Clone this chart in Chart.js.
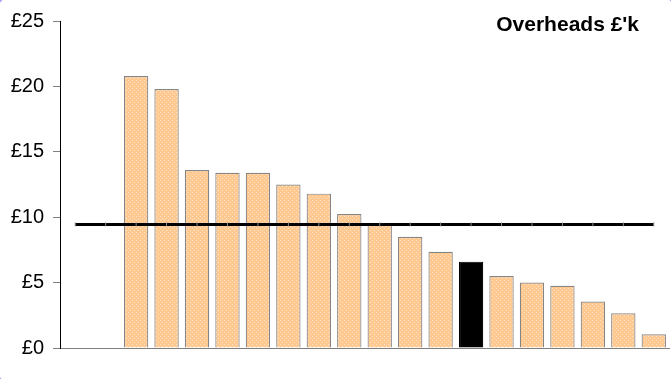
<!DOCTYPE html>
<html>
<head>
<meta charset="utf-8">
<title>Overheads £'k</title>
<script src="https://cdn.jsdelivr.net/npm/chart.js@4.4.1/dist/chart.umd.min.js"></script>
<style>
  html, body { margin: 0; padding: 0; background: #ffffff; overflow: hidden; }
  #wrap { position: relative; width: 671px; height: 379px; overflow: hidden; }
  #frame {
    position: absolute; left: -6px; top: -6px; width: 684px; height: 392px;
    box-sizing: border-box; border: 2px solid #a4a4f6; border-radius: 20px;
    pointer-events: none;
  }
  canvas { position: absolute; left: 0; top: 0; }
</style>
</head>
<body>
<div id="wrap">
  <canvas id="chart" width="674" height="379"></canvas>
  <div id="frame"></div>
</div>
<script>
// Categories along the x axis (not labelled); the first two have no bar.
const categories = ['1','2','3','4','5','6','7','8','9','10','11','12','13','14','15','16','17','18','19','20'];
// Overheads per unit, £'k
const overheads = [null, null, 20.8, 19.8, 13.6, 13.4, 13.4, 12.5, 11.8, 10.25, 9.5, 8.5, 7.35, 6.6, 5.5, 5.0, 4.75, 3.55, 2.65, 1.05];
// Index of the highlighted bar
const highlightIndex = 13;
// Average overheads, drawn as a horizontal line
const averageOverheads = 9.45;
// Y axis ticks
const yTicks = [0, 5, 10, 15, 20, 25];
const chartTitle = "Overheads £'k";

// Peach fill with a fine white dot texture
function dotPattern() {
  const c = document.createElement('canvas');
  c.width = 4; c.height = 4;
  const g = c.getContext('2d');
  g.fillStyle = '#ffc88f';
  g.fillRect(0, 0, 4, 4);
  g.fillStyle = '#ffe6d2';
  g.fillRect(0, 0, 1, 1);
  g.fillRect(2, 2, 1, 1);
  return g.createPattern(c, 'repeat');
}
const peach = dotPattern();

const barFill = overheads.map((v, i) => i === highlightIndex ? '#000000' : peach);
const barEdge = overheads.map((v, i) => i === highlightIndex ? '#000000' : '#858585');
const averageLine = categories.map(() => averageOverheads);

const titlePlugin = {
  id: 'cornerTitle',
  afterDraw(chart) {
    const ctx = chart.ctx;
    ctx.save();
    ctx.font = 'bold 21px "Liberation Sans", Arial, sans-serif';
    ctx.fillStyle = '#000000';
    ctx.textAlign = 'right';
    ctx.textBaseline = 'middle';
    ctx.fillText(chartTitle, chart.chartArea.right - 30, chart.chartArea.top + 4);
    ctx.restore();
  }
};

new Chart(document.getElementById('chart'), {
  data: {
    labels: categories,
    datasets: [
      {
        type: 'line',
        data: averageLine,
        borderColor: '#000000',
        borderWidth: 3,
        pointStyle: 'line',
        rotation: 90,
        pointRadius: 2,
        pointBorderWidth: 1,
        pointBorderColor: '#8a8a8a',
        tension: 0,
        order: 0
      },
      {
        type: 'bar',
        data: overheads,
        backgroundColor: barFill,
        borderColor: barEdge,
        borderWidth: 1.2,
        barPercentage: 0.8,
        categoryPercentage: 1.0,
        order: 1
      }
    ]
  },
  options: {
    responsive: false,
    animation: false,
    events: [],
    layout: { padding: { top: 21, bottom: 31, left: 0, right: 0 } },
    plugins: { legend: { display: false }, tooltip: { enabled: false } },
    scales: {
      x: {
        offset: true,
        ticks: { display: false },
        grid: { display: false },
        border: { display: true, color: '#808080', width: 1 },
        afterFit(scale) { scale.height = 0; }
      },
      y: {
        min: 0,
        max: 25,
        afterBuildTicks(scale) { scale.ticks = yTicks.map(v => ({ value: v })); },
        ticks: {
          padding: 9,
          color: '#000000',
          font: { family: '"Liberation Sans", Arial, sans-serif', size: 20 },
          callback: v => '£' + v
        },
        grid: { drawOnChartArea: false, tickLength: 7, color: '#808080' },
        border: { display: true, color: '#000000', width: 1 },
        afterFit(scale) { scale.width = 60; }
      }
    }
  },
  plugins: [titlePlugin]
});
</script>
</body>
</html>
